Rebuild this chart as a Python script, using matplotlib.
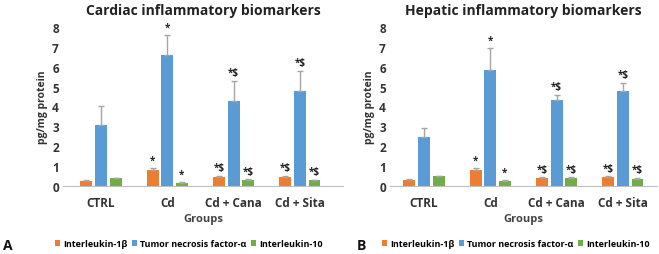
import numpy as np
import matplotlib.pyplot as plt

groups = ['CTRL', 'Cd', 'Cd + Cana', 'Cd + Sita']
series = ['Interleukin-1β', 'Tumor necrosis factor-α', 'Interleukin-10']
colors = ['#ED7D31', '#5B9BD5', '#70AD47']

# cardiac (panel A)
cardiac_il1b = [0.25, 0.82, 0.45, 0.45]
cardiac_tnf = [3.05, 6.6, 4.3, 4.8]
cardiac_il10 = [0.38, 0.15, 0.30, 0.28]
cardiac_il1b_err = [0.06, 0.08, 0.07, 0.07]
cardiac_tnf_err = [1.0, 1.0, 1.0, 1.0]
cardiac_il10_err = [0.04, 0.05, 0.03, 0.04]

# hepatic (panel B)
hepatic_il1b = [0.30, 0.78, 0.38, 0.45]
hepatic_tnf = [2.45, 5.85, 4.35, 4.8]
hepatic_il10 = [0.48, 0.27, 0.40, 0.37]
hepatic_il1b_err = [0.05, 0.12, 0.07, 0.05]
hepatic_tnf_err = [0.45, 1.1, 0.25, 0.4]
hepatic_il10_err = [0.03, 0.05, 0.03, 0.05]

marks = ['', '*', '*$', '*$']

plt.rcParams['font.family'] = ['Open Sans', 'DejaVu Sans']
plt.rcParams['font.weight'] = 'bold'

W, H = 659, 255
fig = plt.figure(figsize=(W / 100, H / 100), dpi=100)


def px_axes(x0, x1, y0, y1):
    return fig.add_axes([x0 / W, 1 - y1 / H, (x1 - x0) / W, (y1 - y0) / H])


def draw_panel(ax, vals, errs, title, xlim):
    x = np.arange(len(groups))
    width = 0.18
    offsets = [-0.22, 0, 0.22]
    for i in range(3):
        ax.bar(x + offsets[i], vals[i], width, color=colors[i], label=series[i],
               yerr=[np.zeros(4), errs[i]], error_kw=dict(ecolor='#A5A5A5', elinewidth=1,
                                                         capsize=2, capthick=1))
        for j in range(4):
            if marks[j]:
                ax.text(x[j] + offsets[i], vals[i][j] + errs[i][j] + 0.12, marks[j],
                        ha='center', va='bottom', fontsize=7, fontweight='bold', color='#222222')
    ax.set_xlim(*xlim)
    ax.set_ylim(0, 8)
    ax.set_yticks(range(0, 9))
    ax.set_xticks(x)
    ax.set_xticklabels(groups)
    ax.tick_params(axis='both', length=0, labelsize=8.5, colors='#333333')
    ax.tick_params(axis='x', pad=7)
    ax.tick_params(axis='y', pad=3)
    for s in ['top', 'right', 'left']:
        ax.spines[s].set_visible(False)
    ax.spines['bottom'].set_color('#BFBFBF')
    ax.set_ylabel('pg/mg protein', fontsize=7.5, fontweight='bold', color='#333333', labelpad=3)
    ax.set_xlabel('Groups', fontsize=8, fontweight='bold', color='#444444', labelpad=3)
    ax.set_title(title, fontsize=10, fontweight='bold', color='#222222', pad=9)


axA = px_axes(63, 343, 28, 187)
draw_panel(axA, [cardiac_il1b, cardiac_tnf, cardiac_il10],
           [cardiac_il1b_err, cardiac_tnf_err, cardiac_il10_err],
           'Cardiac inflammatory biomarkers', ((63 - 101) / 66.3, (343 - 101) / 66.3))

axB = px_axes(390, 657, 28, 187)
draw_panel(axB, [hepatic_il1b, hepatic_tnf, hepatic_il10],
           [hepatic_il1b_err, hepatic_tnf_err, hepatic_il10_err],
           'Hepatic inflammatory biomarkers', ((390 - 424) / 66.3, (657 - 424) / 66.3))

for ax, lx, letter, ltx in [(axA, 55, 'A', 3), (axB, 382, 'B', 357)]:
    h, l = ax.get_legend_handles_labels()
    fig.legend(h, l, loc='center left', bbox_to_anchor=(lx / W, 1 - 245 / H), ncol=3,
               frameon=False, fontsize=6.5, handlelength=0.6, handleheight=0.6,
               handletextpad=0.3, columnspacing=0.5, borderpad=0, borderaxespad=0)
    fig.text(ltx / W, 1 - 246 / H, letter, fontsize=10, fontweight='bold',
             va='center', ha='left', color='#111111')

fig.savefig('out.png', dpi=100)
